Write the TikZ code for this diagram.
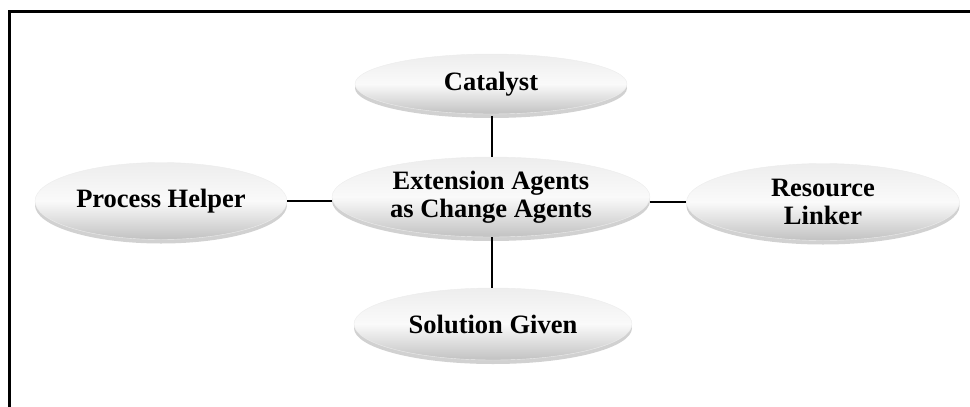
\documentclass[tikz,border=0pt]{standalone}
\usepackage{fontspec}
\setmainfont{Liberation Serif}
\usetikzlibrary{shapes.geometric,shadows}
\tikzset{
  bubble/.style={ellipse, inner sep=0pt, draw=gray!15, line width=0.4pt,
    top color=gray!14, bottom color=gray!48, middle color=white!96!gray,
    shading angle=0,
    drop shadow={shadow xshift=0pt, shadow yshift=-4pt, opacity=0.18, fill=black},
    font=\fontsize{26.5}{28}\selectfont\bfseries, align=center, text=black},
  link/.style={draw=black, line width=2.5pt}
}
\begin{document}
\begin{tikzpicture}[x=1pt, y=-1pt]
\useasboundingbox (0,0) rectangle (970,407);
\begin{scope}
\clip (0,0) rectangle (970,407);
\draw[line width=3pt] (9.5,11.5) rectangle (990,430);
\end{scope}
\node[bubble, minimum width=318pt, minimum height=80pt] (c) at (491,197) {Extension Agents\\as Change Agents};
\node[bubble, minimum width=272pt, minimum height=60pt] (t) at (491,84) {Catalyst};
\node[bubble, minimum width=252pt, minimum height=77pt] (l) at (161,201) {Process Helper};
\node[bubble, minimum width=273pt, minimum height=77pt] (r) at (823,202) {Resource\\Linker};
\node[bubble, minimum width=278pt, minimum height=72pt] (b) at (493,324) {Solution Given};
\draw[link] (t.south) ++(1,2) coordinate (t1) -- (c.north -| t1);
\draw[link] (c.south) ++(1,0) coordinate (c1) -- (b.north -| c1);
\draw[link] (l.east) -- (c.west |- l.east);
\draw[link] (c.east |- r.west) -- (r.west);
\end{tikzpicture}
\end{document}
